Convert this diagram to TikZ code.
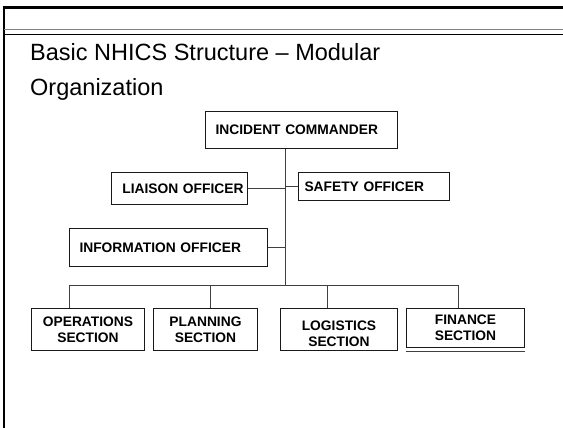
\documentclass[tikz,border=0pt]{standalone}
\usepackage{fontspec}
\setmainfont{Liberation Sans}
\begin{document}
\begin{tikzpicture}[x=1pt,y=-1pt]
\tikzstyle{every node}+=[inner sep=0pt]
\tikzstyle{post}=[draw=black!90,line width=1pt,anchor=north west,font=\fontsize{13.8}{16}\selectfont\bfseries]
\tikzstyle{section}=[post,align=center,minimum height=42pt]
\tikzstyle{link}=[black!75,line width=0.9pt]
\useasboundingbox (0,0) rectangle (563,428);
\draw [black,line width=2.6pt] (2.6,7.6) -- (563,7.6);
\draw [black,line width=2.3pt] (3.8,6.3) -- (3.8,428);
\draw [black!50,line width=1pt] (3.8,30) -- (563,30);
\draw [black,line width=1pt] (3.8,35) -- (563,35);
\node (title) [anchor=north west,align=left,font=\fontsize{23.5}{35}\selectfont] at (30,43) {Basic NHICS Structure – Modular\\Organization};
\node (ic) [post,minimum height=37pt,inner xsep=10pt,text width=172pt,align=left] at (205,111) {INCIDENT COMMANDER};
\node (liaison) [post,minimum height=32pt,inner xsep=4pt,text width=128pt,align=right] at (111,172) {LIAISON OFFICER};
\node (safety) [post,minimum height=28pt,inner xsep=6pt,text width=139pt,align=left] at (298,172) {SAFETY OFFICER};
\node (info) [post,minimum height=38pt,inner xsep=10pt,text width=178pt,align=left] at (69,228) {INFORMATION OFFICER};
\node (ops) [section,text width=113pt] at (31,308) {OPERATIONS\\SECTION};
\node (plan) [section,text width=104pt] at (153,308) {PLANNING\\SECTION};
\node (logs) [section,text width=117pt] at (280,308) {\rule{0pt}{18pt}LOGISTICS\\SECTION};
\node (fin) [section,text width=118pt,minimum height=39pt] at (406,308) {FINANCE\\SECTION};
\draw [link] ([yshift=-3pt]fin.south west) -- ([yshift=-3pt]fin.south east);
\coordinate (hub) at (285,285);
\coordinate (dOps) at (69,285);
\coordinate (dPlan) at (210,285);
\coordinate (dLogs) at (327,285);
\coordinate (dFin) at (458,285);
\draw [link] (ic.south -| hub) -- (hub);
\draw [link] (liaison.east) -- (liaison.east -| hub);
\draw [link] (safety.west) -- (safety.west -| hub);
\draw [link] (info.east) -- (info.east -| hub);
\draw [link] (dOps) -- (dFin);
\draw [link] (dOps) -- (dOps |- ops.north);
\draw [link] (dPlan) -- (dPlan |- plan.north);
\draw [link] (dLogs) -- (dLogs |- logs.north);
\draw [link] (dFin) -- (dFin |- fin.north);
\end{tikzpicture}
\end{document}
